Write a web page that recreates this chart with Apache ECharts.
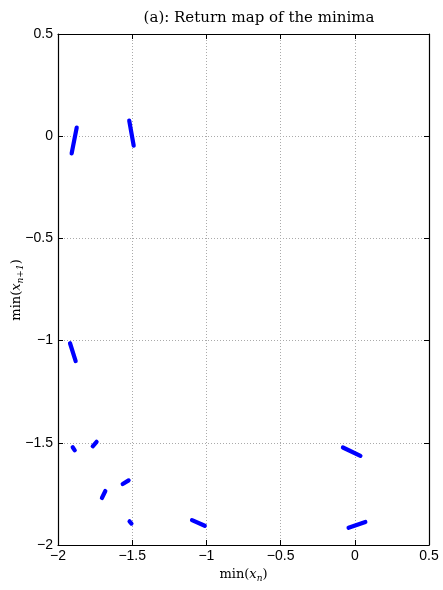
<!DOCTYPE html>
<html>
<head>
<meta charset="utf-8">
<script src="https://cdn.jsdelivr.net/npm/echarts@6/dist/echarts.min.js"></script>
<style>
  html, body { margin: 0; padding: 0; background: #fff; }
  #chart { width: 443px; height: 590px; }
</style>
</head>
<body>
<div id="chart"></div>
<script>
// ticks on both axes
const xTicks = [-2, -1.5, -1, -0.5, 0, 0.5];
const yTicks = [-2, -1.5, -1, -0.5, 0, 0.5];

// each cluster of the return map, read as a short stroke: [x_n, x_n+1] end points
const segments = [
    [[-1.908, -0.084], [-1.874, 0.042]],
    [[-1.520, 0.076], [-1.490, -0.046]],
    [[-1.919, -1.013], [-1.881, -1.100]],
    [[-1.901, -1.522], [-1.887, -1.537]],
    [[-1.766, -1.517], [-1.740, -1.495]],
    [[-1.704, -1.770], [-1.681, -1.736]],
    [[-1.564, -1.702], [-1.524, -1.684]],
    [[-1.518, -1.884], [-1.505, -1.895]],
    [[-1.097, -1.878], [-1.011, -1.906]],
    [[-0.080, -1.523], [0.038, -1.564]],
    [[-0.042, -1.916], [0.071, -1.887]],
];

const fmt = v => String(v).replace('-', '\u2212');

// join strokes into one line broken with nulls
let lineData = [];
segments.forEach(s => {
    lineData.push(s[0], s[1], [null, null]);
});

const chart = echarts.init(document.getElementById('chart'));
const serif = 'DejaVu Serif';
const sans = 'Liberation Sans';

const nameRich = {
    t: { fontFamily: serif, fontSize: 13, color: '#000' },
    i: { fontFamily: serif, fontStyle: 'italic', fontSize: 13, color: '#000' },
    s: { fontFamily: serif, fontStyle: 'italic', fontSize: 9, color: '#000', verticalAlign: 'bottom', padding: [7, 0, 0, 0] },
};

const option = {
    animation: false,
    title: {
        text: '(a): Return map of the minima',
        left: 254,
        textAlign: 'center',
        top: 6,
        textStyle: { fontFamily: serif, fontWeight: 'normal', fontSize: 15, color: '#000' },
    },
    // y axis name placed by hand (axis name gets pushed past the tick labels)
    graphic: [
        {
            type: 'text',
            x: 17,
            y: 290,
            rotation: Math.PI / 2,
            style: {
                text: '{t|min(}{i|x}{s|n+1}{t|)}',
                rich: nameRich,
                align: 'center',
                verticalAlign: 'middle',
            },
        },
    ],
    grid: { left: 58, right: 14, top: 34, bottom: 45, outerBoundsMode: 'none', containLabel: false },
    xAxis: [
        {
            type: 'value', min: -2, max: 0.5, interval: 0.5,
            axisLine: { onZero: false, lineStyle: { color: '#000', width: 1.2 } },
            axisTick: { inside: true, length: 5, lineStyle: { color: '#000' } },
            axisLabel: { color: '#000', fontFamily: sans, fontSize: 14, margin: 4, formatter: fmt },
            splitLine: { show: true, lineStyle: { color: '#aaa', type: [1, 2] } },
            name: '{t|min(}{i|x}{s|n}{t|)}',
            nameLocation: 'middle',
            nameGap: 22,
            nameTextStyle: { rich: nameRich },
        },
        {
            type: 'value', min: -2, max: 0.5, interval: 0.5, position: 'top',
            axisLine: { onZero: false, lineStyle: { color: '#000', width: 1.2 } },
            axisTick: { inside: true, length: 5, lineStyle: { color: '#000' } },
            axisLabel: { show: false },
            splitLine: { show: false },
        },
    ],
    yAxis: [
        {
            type: 'value', min: -2, max: 0.5, interval: 0.5,
            axisLine: { onZero: false, lineStyle: { color: '#000', width: 1.2 } },
            axisTick: { inside: true, length: 5, lineStyle: { color: '#000' } },
            axisLabel: { color: '#000', fontFamily: sans, fontSize: 14, margin: 5, formatter: fmt },
            splitLine: { show: true, lineStyle: { color: '#aaa', type: [1, 2] } },
        },
        {
            type: 'value', min: -2, max: 0.5, interval: 0.5, position: 'right',
            axisLine: { onZero: false, lineStyle: { color: '#000', width: 1.2 } },
            axisTick: { inside: true, length: 5, lineStyle: { color: '#000' } },
            axisLabel: { show: false },
            splitLine: { show: false },
        },
    ],
    series: [
        {
            type: 'line',
            data: lineData,
            connectNulls: false,
            showSymbol: false,
            symbol: 'none',
            lineStyle: { color: '#0000ff', width: 4.2, cap: 'round' },
            z: 5,
        },
    ],
};
chart.setOption(option);
</script>
</body>
</html>
